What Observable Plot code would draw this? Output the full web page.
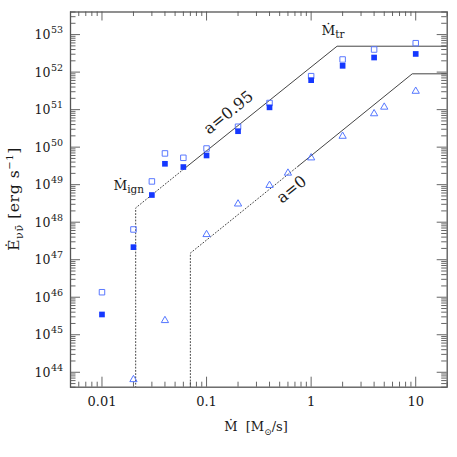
<!DOCTYPE html>
<html><head><meta charset="utf-8">
<script src="https://cdn.jsdelivr.net/npm/d3@7"></script>
<script src="https://cdn.jsdelivr.net/npm/@observablehq/plot@0.6"></script>
<style>body{margin:0;background:#fff} svg{display:block}</style>
</head><body><div id="chart"></div>
<script>
// ---- data ----
const xTicks = [0.01, 0.1, 1, 10];
const xTickLabels = ["0.01", "0.1", "1", "10"];
const yTickExps = [44, 45, 46, 47, 48, 49, 50, 51, 52, 53];

const mdotSq = [0.01, 0.02, 0.03, 0.04, 0.06, 0.1, 0.2, 0.4, 1, 2, 4, 10];
const openSq = [1.36e46, 6.4e47, 1.22e49, 6.8e49, 5.2e49, 9.2e49, 3.5e50, 1.5e51, 7.8e51, 2.17e52, 4.0e52, 5.9e52];
const filledSq = [3.47e45, 2.16e47, 5.3e48, 3.6e49, 2.95e49, 6.0e49, 2.66e50, 1.15e51, 6.1e51, 1.47e52, 2.45e52, 3.05e52];
const mdotTri = [0.02, 0.04, 0.1, 0.2, 0.4, 0.6, 1, 2, 4, 5, 10];
const tri = [6.4e43, 2.4e45, 4.7e47, 3.07e48, 9.6e48, 2.04e49, 5.2e49, 1.96e50, 7.8e50, 1.17e51, 3.1e51];

const a95DotX = [0.021, 0.021, 0.06];
const a95DotY = [1e43, 2.4e48, 2.55e49];
const a95SolX = [0.06, 1.77, 20];
const a95SolY = [2.55e49, 4.9e52, 4.9e52];
const a0DotX = [0.07, 0.07, 0.75];
const a0DotY = [1e43, 1.5e47, 3.1e49];
const a0SolX = [0.75, 9.26, 20];
const a0SolY = [3.1e49, 9.0e51, 9.0e51];

// ---- layout ----
const W = 457, H = 457, mL = 70, mR = 10.3, mT = 11.5, mB = 70.3;
const iw = W - mL - mR, ih = H - mT - mB;
const xDom = [0.005, 20], yDom = [4e43, 4e53];
const FONT = "'DejaVu Serif', 'Liberation Serif', serif";

const xMinor = [];
for (let e = -3; e <= 1; e++) for (let m = 2; m <= 9; m++) { const v = m * Math.pow(10, e); if (v >= xDom[0] && v <= xDom[1]) xMinor.push(v); }
const yMajor = yTickExps.map(e => Math.pow(10, e));
const yMinor = [];
for (let e = 43; e <= 53; e++) for (let m = 2; m <= 9; m++) { const v = m * Math.pow(10, e); if (v >= yDom[0] && v <= yDom[1]) yMinor.push(v); }

const pts = (xs, ys) => xs.map((x, i) => ({x, y: ys[i]}));
const tickC = "#666";
const lineC = "#444";
const txtC = "#1a1a1a";

const plot = Plot.plot({
  width: W, height: H,
  marginLeft: mL, marginRight: mR, marginTop: mT, marginBottom: mB,
  style: {fontFamily: FONT, background: "#fff"},
  x: {type: "log", domain: xDom, axis: null},
  y: {type: "log", domain: yDom, axis: null},
  marks: [
    // inward ticks
    Plot.tickX(xTicks, {x: d => d, insetTop: ih - 10, stroke: tickC}),
    Plot.tickX(xTicks, {x: d => d, insetBottom: ih - 9, stroke: tickC}),
    Plot.tickX(xMinor, {x: d => d, insetTop: ih - 5, stroke: tickC}),
    Plot.tickX(xMinor, {x: d => d, insetBottom: ih - 4.5, stroke: tickC}),
    Plot.tickY(yMajor, {y: d => d, insetRight: iw - 10, stroke: tickC}),
    Plot.tickY(yMajor, {y: d => d, insetLeft: iw - 10, stroke: tickC}),
    Plot.tickY(yMinor, {y: d => d, insetRight: iw - 5.5, stroke: tickC}),
    Plot.tickY(yMinor, {y: d => d, insetLeft: iw - 5.5, stroke: tickC}),
    Plot.frame({stroke: "#555", strokeWidth: 1.3}),
    // model lines
    Plot.line(pts(a95DotX, a95DotY), {x: "x", y: "y", stroke: lineC, strokeWidth: 1, strokeDasharray: "1,2.2", clip: true}),
    Plot.line(pts(a95SolX, a95SolY), {x: "x", y: "y", stroke: lineC, strokeWidth: 1, clip: true}),
    Plot.line(pts(a0DotX, a0DotY), {x: "x", y: "y", stroke: lineC, strokeWidth: 1, strokeDasharray: "1,2.2", clip: true}),
    Plot.line(pts(a0SolX, a0SolY), {x: "x", y: "y", stroke: lineC, strokeWidth: 1, clip: true}),
    // data
    Plot.dot(pts(mdotTri, tri), {x: "x", y: "y", symbol: "triangle", r: 2.7, stroke: "#5577ff", fill: "none", strokeWidth: 1}),
    Plot.dot(pts(mdotSq, openSq), {x: "x", y: "y", symbol: "square", r: 3.1, stroke: "#5a78ff", fill: "none", strokeWidth: 1}),
    Plot.dot(pts(mdotSq, filledSq), {x: "x", y: "y", symbol: "square", r: 3.2, fill: "#1538ff", stroke: "none"}),
    // tick labels
    Plot.text(xTicks, {x: d => d, text: (d, i) => xTickLabels[i], frameAnchor: "bottom", lineAnchor: "bottom", dy: 19, fontSize: 13, fill: txtC}),
    Plot.text(yMajor, {y: d => d, text: () => "10", frameAnchor: "left", textAnchor: "end", lineAnchor: "bottom", dx: -20, dy: 4.5, fontSize: 12.5, fill: txtC}),
    Plot.text(yTickExps, {y: d => Math.pow(10, d), text: d => String(d), frameAnchor: "left", textAnchor: "start", lineAnchor: "bottom", dx: -19.5, dy: -1.5, fontSize: 9.5, letterSpacing: 0.6, fill: txtC}),
    // curve labels
    Plot.text([{x: 0.162, y: 8.3e50}], {x: "x", y: "y", text: () => "a=0.95", rotate: -39, fontSize: 16, fill: txtC}),
    Plot.text([{x: 0.65, y: 7.4e48}], {x: "x", y: "y", text: () => "a=0", rotate: -39, fontSize: 16, fill: txtC})
  ]
});

document.getElementById("chart").appendChild(plot);

// rich labels (subscripts / superscripts)
const svg = d3.select(plot);
const sx = plot.scale("x"), sy = plot.scale("y");
function rich(x, y, parts, opts = {}) {
  const t = svg.append("text").attr("x", x).attr("y", y)
    .attr("font-family", FONT).attr("font-size", opts.size || 14).attr("fill", txtC)
    .attr("text-anchor", opts.anchor || "start");
  if (opts.spacing) t.attr("letter-spacing", opts.spacing);
  if (opts.rotate) t.attr("transform", `rotate(${opts.rotate},${x},${y})`);
  for (const p of parts) {
    const ts = t.append("tspan").text(p.t);
    if (p.size) ts.attr("font-size", p.size);
    if (p.dy) ts.attr("dy", p.dy);
  }
  return t;
}
// Mdot_tr
rich(sx.apply(1.27), sy.apply(9.4e52), [{t: "Ṁ"}, {t: "tr", size: 10.5, dy: 3}], {size: 13.5});
// Mdot_ign
rich(sx.apply(0.013), sy.apply(7.0e48), [{t: "Ṁ"}, {t: "ign", size: 10.5, dy: 3}], {size: 13.5});
// x axis label
rich(256, 431, [{t: "Ṁ  [M"}, {t: "⊙", size: 9, dy: 4}, {t: "/s]", dy: -4}], {size: 13, anchor: "middle"});
// y axis label
rich(18.5, 199, [{t: "Ė"}, {t: "νν̄", size: 11, dy: 4}, {t: " [erg s", dy: -4}, {t: "−1", size: 10, dy: -6}, {t: "]", dy: 6}], {size: 15.5, anchor: "middle", rotate: -90, spacing: 0.6});
</script>
</body></html>
